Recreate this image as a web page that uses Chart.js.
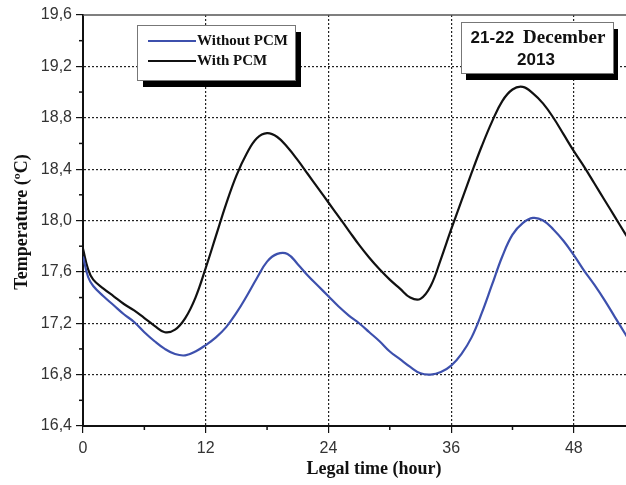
<!DOCTYPE html>
<html>
<head>
<meta charset="utf-8">
<script src="https://cdn.jsdelivr.net/npm/chart.js@4.4.1/dist/chart.umd.min.js"></script>
<style>
  html, body { margin: 0; padding: 0; background: #fff; }
  #wrap { width: 626px; height: 485px; position: relative; }
</style>
</head>
<body>
<div id="wrap"><canvas id="chart"></canvas></div>
<script>
// ── Data ──────────────────────────────────────────────────
const hours = [0, 0.5, 1, 2, 3, 4, 5, 6, 7, 8, 9, 10, 11, 12, 13, 14, 15, 16, 17, 18,
  19, 20, 21, 22, 23, 24, 25, 26, 27, 28, 29, 30, 31, 32, 33, 34, 35, 36, 37, 38,
  39, 40, 41, 42, 43, 44, 45, 46, 47, 48, 49, 50, 51, 52, 53, 54];

const withoutPCM = [17.72, 17.56, 17.49, 17.41, 17.34, 17.27, 17.21, 17.13, 17.06, 17.00,
  16.96, 16.95, 16.98, 17.03, 17.09, 17.17, 17.28, 17.41, 17.55, 17.68,
  17.74, 17.74, 17.66, 17.57, 17.49, 17.41, 17.33, 17.26, 17.20, 17.13,
  17.06, 16.98, 16.92, 16.86, 16.81, 16.80, 16.82, 16.87, 16.96, 17.09,
  17.28, 17.50, 17.72, 17.89, 17.98, 18.02, 18.00, 17.93, 17.84, 17.73,
  17.61, 17.50, 17.38, 17.25, 17.12, 16.99];

const withPCM = [17.78, 17.62, 17.54, 17.47, 17.41, 17.35, 17.30, 17.24, 17.18, 17.13,
  17.15, 17.24, 17.40, 17.63, 17.88, 18.13, 18.35, 18.52, 18.64, 18.68,
  18.65, 18.57, 18.47, 18.36, 18.25, 18.14, 18.03, 17.92, 17.81, 17.71,
  17.62, 17.54, 17.47, 17.40, 17.39, 17.49, 17.70, 17.93, 18.15, 18.37,
  18.58, 18.77, 18.93, 19.02, 19.04, 18.99, 18.91, 18.80, 18.67, 18.54,
  18.42, 18.29, 18.16, 18.03, 17.90, 17.77];

const xTicks = [0, 12, 24, 36, 48];
const yTicks = ['16,4', '16,8', '17,2', '17,6', '18,0', '18,4', '18,8', '19,2', '19,6'];
const seriesNames = ['Without PCM', 'With PCM'];
const dateParts = ['21-22', 'December', '2013'];

const BLUE = '#3d50ad';
const BLACK = '#111111';

const toPoints = (vals) => hours.map((h, i) => ({ x: h, y: vals[i] }));

// ── Decorations: frame, minor ticks, titles, boxes ───────
const decorations = {
  id: 'decorations',
  beforeDatasetsDraw(chart) {
    const { ctx, chartArea: a, scales: { x, y } } = chart;
    ctx.save();
    // top frame line
    ctx.strokeStyle = '#555';
    ctx.lineWidth = 1.5;
    ctx.beginPath();
    ctx.moveTo(a.left, a.top);
    ctx.lineTo(a.right, a.top);
    ctx.stroke();
    // minor ticks
    ctx.strokeStyle = '#111';
    ctx.lineWidth = 1.5;
    for (let h = 6; h < x.max; h += 12) {
      const px = x.getPixelForValue(h);
      ctx.beginPath();
      ctx.moveTo(px, a.bottom);
      ctx.lineTo(px, a.bottom + 4);
      ctx.stroke();
    }
    for (let v = 16.6; v < 19.6; v += 0.4) {
      const py = y.getPixelForValue(v);
      ctx.beginPath();
      ctx.moveTo(a.left, py);
      ctx.lineTo(a.left - 4, py);
      ctx.stroke();
    }
    ctx.restore();
  },
  afterDraw(chart) {
    const { ctx } = chart;
    ctx.save();

    // axis titles
    ctx.fillStyle = '#111';
    ctx.font = 'bold 18px "Liberation Serif", serif';
    ctx.textAlign = 'center';
    ctx.textBaseline = 'middle';
    ctx.fillText('Legal time (hour)', 374, 469);
    ctx.save();
    ctx.translate(22, 222);
    ctx.rotate(-Math.PI / 2);
    ctx.fillText('Temperature (ºC)', 0, 0);
    ctx.restore();

    // boxes with a drop shadow
    const box = (x0, y0, w, h, dx, dy) => {
      ctx.fillStyle = '#000';
      ctx.fillRect(x0 + dx, y0 + dy, w, h);
      ctx.fillStyle = '#fff';
      ctx.fillRect(x0, y0, w, h);
      ctx.strokeStyle = '#777';
      ctx.lineWidth = 1;
      ctx.strokeRect(x0 + 0.5, y0 + 0.5, w, h);
    };

    // legend
    box(137, 25, 158, 55, 6, 7);
    const colors = [BLUE, BLACK];
    ctx.font = 'bold 15px "Liberation Serif", serif';
    ctx.textAlign = 'left';
    seriesNames.forEach((name, i) => {
      const ly = 41 + i * 20;
      ctx.strokeStyle = colors[i];
      ctx.lineWidth = 2;
      ctx.beginPath();
      ctx.moveTo(148, ly);
      ctx.lineTo(196, ly);
      ctx.stroke();
      ctx.fillStyle = '#111';
      ctx.fillText(name, 197, ly);
    });

    // date box
    box(461, 22, 152, 51, 5, 7);
    ctx.fillStyle = '#111';
    const sans = 'bold 17px "Liberation Sans", Arial, sans-serif';
    const serif = 'bold 19px "Liberation Serif", serif';
    ctx.font = sans;
    const w1 = ctx.measureText(dateParts[0]).width;
    ctx.font = serif;
    const w2 = ctx.measureText(dateParts[1]).width;
    const gap = 9;
    let tx = 538 - (w1 + gap + w2) / 2;
    ctx.textAlign = 'left';
    ctx.font = sans;
    ctx.fillText(dateParts[0], tx, 38);
    ctx.font = serif;
    ctx.fillText(dateParts[1], tx + w1 + gap, 38);
    ctx.font = sans;
    ctx.textAlign = 'center';
    ctx.fillText(dateParts[2], 536, 60);

    ctx.restore();
  }
};

new Chart(document.getElementById('chart'), {
  type: 'line',
  data: {
    datasets: [
      { label: seriesNames[0], data: toPoints(withoutPCM), borderColor: BLUE, borderWidth: 2.2 },
      { label: seriesNames[1], data: toPoints(withPCM), borderColor: BLACK, borderWidth: 2.2 },
    ],
  },
  options: {
    responsive: true,
    maintainAspectRatio: false,
    animation: false,
    layout: { padding: { top: 15, right: 0, left: 0, bottom: 0 } },
    elements: {
      point: { radius: 0 },
      line: { tension: 0.4, fill: false },
    },
    plugins: { legend: { display: false }, tooltip: { enabled: false } },
    scales: {
      x: {
        type: 'linear',
        min: 0,
        max: 53.1,
        afterFit: (s) => { s.height = 59; },
        afterBuildTicks: (s) => { s.ticks = xTicks.map(v => ({ value: v })); },
        ticks: {
          padding: 6,
          color: '#333',
          font: { family: '"Liberation Sans", Arial, sans-serif', size: 16 },
          callback: (v) => String(v),
        },
        grid: {
          color: (c) => (c.tick && c.tick.value === 0 ? 'rgba(0,0,0,0)' : '#222'),
          tickColor: '#111',
          tickLength: 7,
          lineWidth: 1.2,
        },
        border: { display: true, color: '#111', width: 2, dash: [2, 2] },
      },
      y: {
        min: 16.4,
        max: 19.6,
        afterFit: (s) => { s.width = 83; },
        afterBuildTicks: (s) => { s.ticks = yTicks.map((t, i) => ({ value: 16.4 + i * 0.4 })); },
        ticks: {
          padding: 4,
          color: '#333',
          font: { family: '"Liberation Sans", Arial, sans-serif', size: 16 },
          callback: (v, i) => yTicks[i],
        },
        grid: {
          color: (c) => (c.index === 0 || c.index === yTicks.length - 1 ? 'rgba(0,0,0,0)' : '#222'),
          tickColor: '#111',
          tickLength: 7,
          lineWidth: 1.2,
        },
        border: { display: true, color: '#111', width: 2, dash: [2, 2] },
      },
    },
  },
  plugins: [decorations],
});
</script>
</body>
</html>
